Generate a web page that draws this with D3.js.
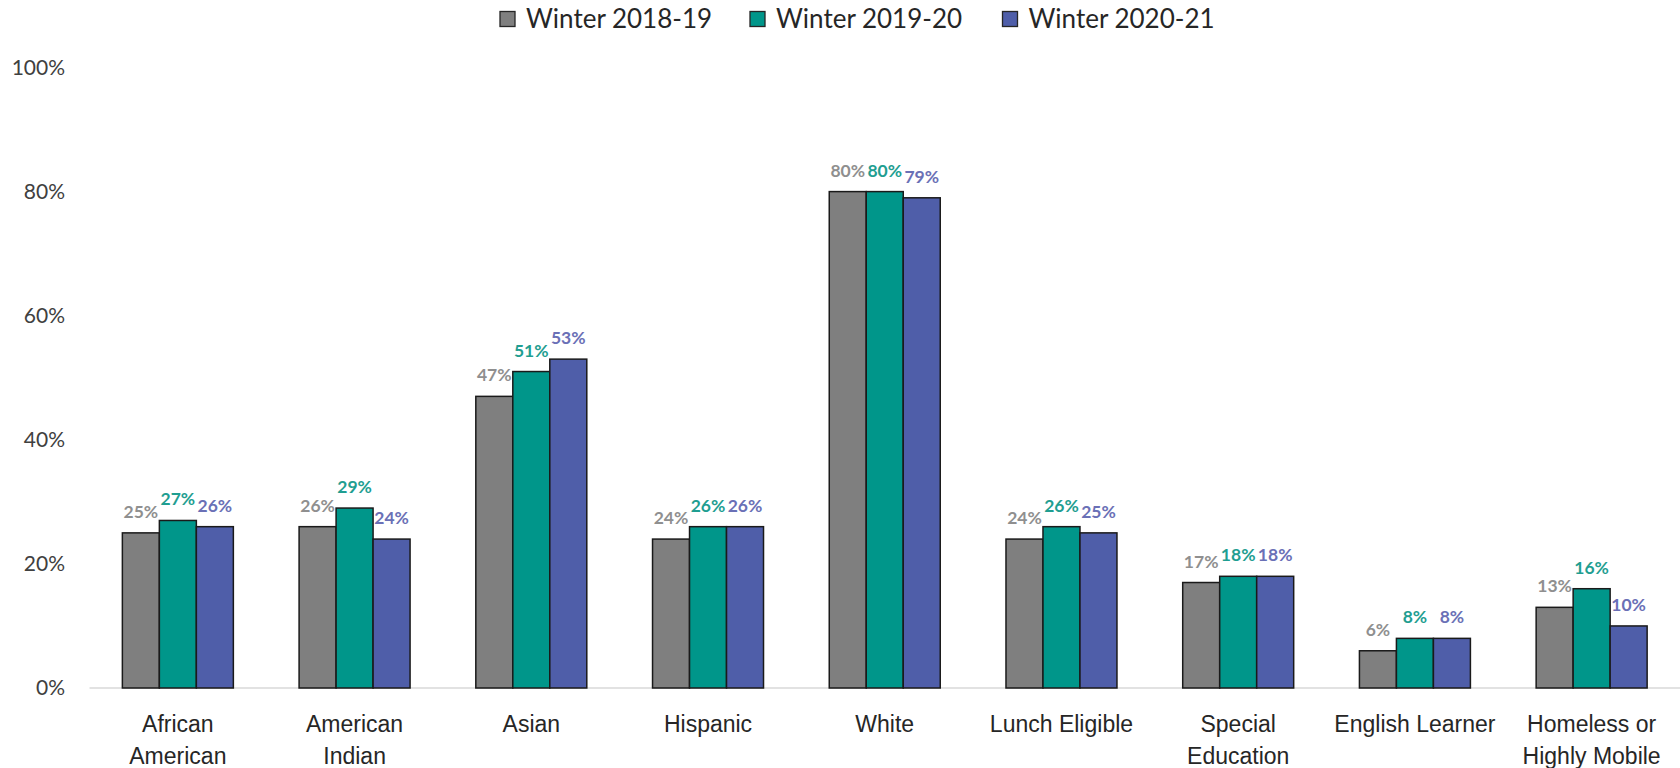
<!DOCTYPE html>
<html><head><meta charset="utf-8">
<script src="https://cdn.jsdelivr.net/npm/d3@7"></script>
<style>body{margin:0;background:#fff;}svg{display:block;font-family:Lato,"Open Sans",sans-serif;}</style>
</head><body>
<svg id="chart" width="1680" height="768"></svg>
<script>
const categories = [["African","American"],["American","Indian"],["Asian"],["Hispanic"],["White"],["Lunch Eligible"],["Special","Education"],["English Learner"],["Homeless or","Highly Mobile"]];
const seriesNames = ["Winter 2018-19","Winter 2019-20","Winter 2020-21"];
const winter1819 = [25,26,47,24,80,24,17,6,13];
const winter1920 = [27,29,51,26,80,26,18,8,16];
const winter2021 = [26,24,53,26,79,25,18,8,10];
const yTicks = [0,20,40,60,80,100];

const seriesValues = [winter1819, winter1920, winter2021];
const fills = ["#7f7f7f","#00968a","#4f5ea9"];
const labelColors = ["#8f8f8f","#1f9e91","#6a70b6"];

const svg = d3.select("#chart");
const x0 = d3.scaleBand().domain(d3.range(categories.length)).range([89.5, 1680]).paddingInner(0.372).paddingOuter(0.186);
const x1 = d3.scaleBand().domain(d3.range(3)).range([0, x0.bandwidth()]);
const y = d3.scaleLinear().domain([0,100]).range([688, 67.5]);

// y axis labels
const yAxis = d3.axisLeft(y).tickValues(yTicks).tickFormat(d => d + "%").tickSize(0).tickPadding(0);
const ya = svg.append("g").attr("transform","translate(65,0)").call(yAxis);
ya.select(".domain").remove();
ya.selectAll("text").attr("font-size",21).attr("fill","#404040").attr("font-family","Lato");

// baseline
svg.append("line").attr("x1",89.5).attr("x2",1680).attr("y1",y(0)).attr("y2",y(0)).attr("stroke","#d9d9d9").attr("stroke-width",1.5);

// bars
const groups = svg.selectAll("g.grp").data(categories).join("g").attr("class","grp")
  .attr("transform",(d,i)=>`translate(${x0(i)},0)`);
groups.each(function(d,i){
  const g = d3.select(this);
  seriesValues.forEach((vals,s)=>{
    g.append("rect").attr("x",x1(s)).attr("width",x1.bandwidth()).attr("y",y(vals[i])).attr("height",y(0)-y(vals[i]))
      .attr("fill",fills[s]).attr("stroke","#1a1a1a").attr("stroke-width",1.5);
  });
  seriesValues.forEach((vals,s)=>{
    g.append("text").attr("x",x1(s)+x1.bandwidth()/2).attr("y",y(vals[i])-15).attr("text-anchor","middle")
      .attr("font-size",17.5).attr("font-weight","bold").attr("fill",labelColors[s]).text(vals[i]+"%");
  });
});

// x axis labels
const xAxis = d3.axisBottom(x0).tickSize(0).tickFormat("");
const xa = svg.append("g").attr("transform",`translate(0,${y(0)})`).call(xAxis);
xa.select(".domain").remove();
xa.selectAll(".tick").each(function(d){
  const t = d3.select(this).append("text").attr("text-anchor","middle").attr("font-size",23).attr("fill","#262626");
  categories[d].forEach((line,k)=>{
    t.append("tspan").attr("x",0).attr("y",44 + k*32).text(line);
  });
});

// legend
const legendX = [500, 750, 1002.5];
const lg = svg.append("g");
seriesNames.forEach((n,s)=>{
  lg.append("rect").attr("x",legendX[s]).attr("y",11.5).attr("width",15).attr("height",15).attr("fill",fills[s]).attr("stroke","#262626").attr("stroke-width",1.3);
  lg.append("text").attr("x",legendX[s]+26).attr("y",27.5).attr("font-size",26).attr("fill","#262626").text(n);
});
</script>
</body></html>
